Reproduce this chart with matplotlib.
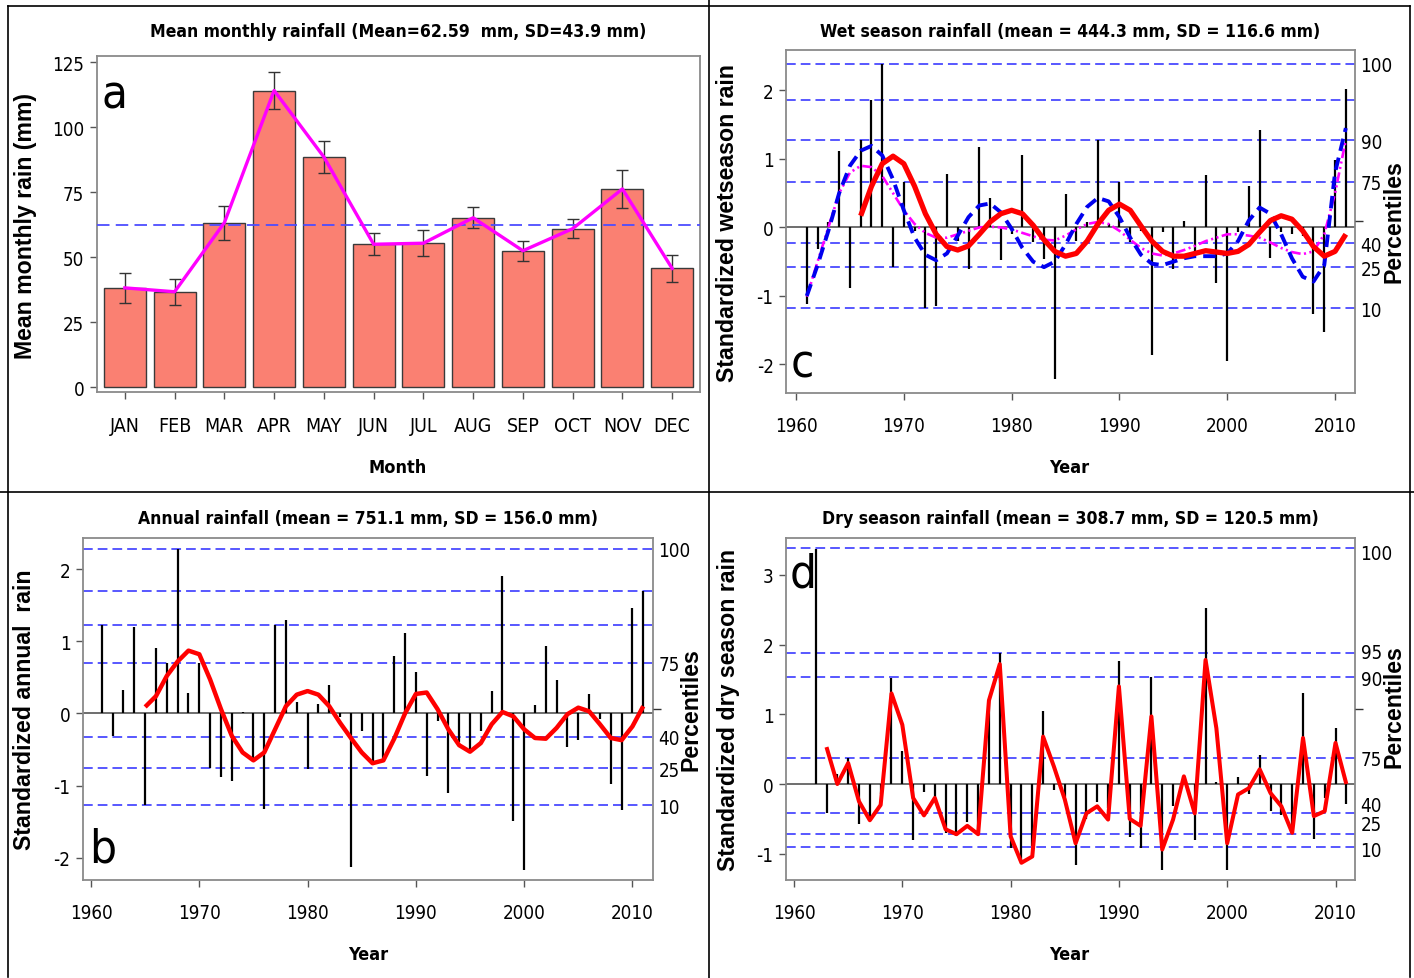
import os
import numpy as np
import matplotlib
matplotlib.use('Agg')
import matplotlib.pyplot as plt
from matplotlib import font_manager as fm
from matplotlib.lines import Line2D

# ---------------- data ----------------
months = ['JAN', 'FEB', 'MAR', 'APR', 'MAY', 'JUN', 'JUL', 'AUG', 'SEP', 'OCT', 'NOV', 'DEC']
monthly_mean = [38.2, 36.7, 63.3, 114.2, 88.6, 55.0, 55.4, 65.2, 52.5, 61.0, 76.3, 45.7]
monthly_se = [5.7, 5.0, 6.6, 7.3, 6.1, 4.2, 5.0, 4.0, 3.9, 3.7, 7.2, 5.1]
overall_mean = 62.59

years_wet = list(range(1961, 2012))
wet_anom = [-1.12, -0.31, 0.08, 1.11, -0.89, 1.27, 1.86, 2.39, -0.58, 0.66,
            -0.05, -1.18, -1.14, 0.78, -0.20, -0.60, 1.17, 0.43, -0.48, -0.10,
            1.06, -0.22, -0.46, -2.21, 0.49, -0.20, 0.08, 1.27, 0.05, 0.66,
            -0.22, -0.05, -1.86, -0.06, -0.60, 0.10, -0.36, 0.76, -0.81, -1.95,
            -0.06, 0.60, 1.42, -0.44, -0.07, -0.10, -0.13, -1.26, -1.53, 0.98, 2.02]
years_wet_red = list(range(1966, 2012))
wet_red = [0.17, 0.60, 0.93, 1.04, 0.93, 0.60, 0.20, -0.10, -0.28, -0.33,
           -0.27, -0.10, 0.08, 0.20, 0.25, 0.20, 0.03, -0.18, -0.35, -0.42,
           -0.38, -0.20, 0.05, 0.25, 0.34, 0.25, 0.02, -0.20, -0.35, -0.42,
           -0.42, -0.38, -0.34, -0.36, -0.38, -0.35, -0.25, -0.07, 0.10, 0.17,
           0.12, -0.05, -0.28, -0.42, -0.35, -0.10]
wet_blue = [-1.00, -0.55, -0.05, 0.50, 0.90, 1.12, 1.19, 1.05, 0.70, 0.25,
            -0.15, -0.40, -0.48, -0.38, -0.12, 0.15, 0.32, 0.35, 0.22, -0.02,
            -0.30, -0.50, -0.58, -0.50, -0.25, 0.05, 0.30, 0.43, 0.38, 0.15,
            -0.15, -0.40, -0.53, -0.55, -0.50, -0.45, -0.42, -0.42, -0.42, -0.38,
            -0.20, 0.10, 0.29, 0.20, -0.10, -0.45, -0.72, -0.79, -0.55, 0.80, 1.45]
wet_magenta = [-1.01, -0.50, 0.00, 0.50, 0.80, 0.90, 0.88, 0.75, 0.50, 0.25,
               0.05, -0.08, -0.15, -0.15, -0.10, -0.05, 0.00, 0.01, 0.00, -0.03,
               -0.08, -0.13, -0.18, -0.19, -0.12, -0.03, 0.05, 0.08, 0.05, -0.05,
               -0.18, -0.30, -0.38, -0.41, -0.38, -0.33, -0.27, -0.20, -0.15, -0.10,
               -0.10, -0.12, -0.15, -0.22, -0.30, -0.36, -0.39, -0.35, -0.10, 0.50, 1.28]
wet_pct_pos = [2.39, 1.855, 1.27, 0.667, -0.232, -0.585, -1.18]
wet_pct_lab = ['100', '', '90', '75', '40', '25', '10']
wet_mid_tick = 0.10

years_ann = list(range(1961, 2012))
ann_anom = [1.22, -0.31, 0.32, 1.20, -1.27, 0.91, 0.70, 2.28, 0.29, 0.70,
            -0.76, -0.88, -0.94, 0.02, -0.63, -1.33, 1.22, 1.29, 0.16, -0.77,
            0.13, 0.40, -0.05, -2.13, -0.24, -0.68, -0.64, 0.79, 1.12, 0.58,
            -0.86, -0.11, -1.10, -0.39, -0.51, -0.24, 0.31, 1.90, -1.49, -2.17,
            0.12, 0.94, 0.47, -0.46, -0.37, 0.27, -0.08, -0.98, -1.34, 1.46, 1.69]
years_ann_red = list(range(1965, 2012))
ann_red = [0.09, 0.24, 0.52, 0.72, 0.87, 0.82,
           0.47, 0.06, -0.31, -0.54, -0.65, -0.54, -0.22, 0.10, 0.26, 0.31,
           0.26, 0.10, -0.13, -0.34, -0.54, -0.69, -0.65, -0.35, 0.00, 0.27,
           0.29, 0.06, -0.22, -0.44, -0.53, -0.41, -0.15, 0.02, -0.04, -0.22,
           -0.34, -0.35, -0.20, -0.01, 0.08, 0.03, -0.15, -0.34, -0.37, -0.18, 0.10]
ann_pct_pos = [2.28, 1.69, 1.22, 0.70, -0.32, -0.76, -1.27]
ann_pct_lab = ['100', '', '', '75', '40', '25', '10']
ann_mid_tick = 0.06

years_dry = list(range(1962, 2012))
dry_anom = [3.37, -0.41, 0.14, 0.37, -0.58, -0.51, -0.15, 1.52, 0.48,
            -0.81, -0.12, -0.18, -0.70, -0.75, -0.54, -0.70, 1.19, 1.88, -0.92,
            -1.10, -0.89, 1.05, -0.08, -0.18, -1.16, -0.50, -0.26, -0.34, 1.77,
            -0.76, -0.92, 1.53, -1.24, -0.31, 0.12, -0.81, 2.53, 0.03, -1.23,
            0.10, -0.15, 0.42, -0.38, -0.45, -0.70, 1.31, -0.79, -0.20, 0.80, -0.29]
years_dry_red = list(range(1963, 2012))
dry_red = [0.53, 0.00, 0.30, -0.25, -0.52, -0.30, 1.30, 0.85,
           -0.20, -0.45, -0.20, -0.65, -0.72, -0.60, -0.72, 1.20, 1.72, -0.75,
           -1.13, -1.04, 0.68, 0.25, -0.22, -0.85, -0.42, -0.32, -0.51, 1.40,
           -0.50, -0.60, 0.97, -0.94, -0.51, 0.11, -0.42, 1.78, 0.80, -0.85,
           -0.15, -0.06, 0.21, -0.13, -0.32, -0.70, 0.66, -0.46, -0.39, 0.59, 0.00]
dry_pct_line = [3.39, 1.88, 1.53, 0.37, -0.42, -0.72, -0.90]
dry_pct_pos = [3.33, 1.91, 1.53, 0.38, -0.28, -0.55, -0.93]
dry_pct_lab = ['100', '95', '90', '75', '40', '25', '10']
dry_mid_tick = 1.07

year_ticks = [1960, 1970, 1980, 1990, 2000, 2010]

# ---------------- fonts ----------------
files = {os.path.basename(f.fname): f.fname for f in fm.fontManager.ttflist}
pairs = [('LiberationSansNarrow-Regular.ttf', 'LiberationSansNarrow-Bold.ttf'),
         ('DejaVuSansCondensed.ttf', 'DejaVuSansCondensed-Bold.ttf'),
         ('RobotoCondensed-Regular.ttf', 'RobotoCondensed-Bold.ttf')]
NREG = NBOLD = None
for r, b in pairs:
    if r in files and b in files:
        NREG, NBOLD = files[r], files[b]
        break
SC = 1.0 if NREG else 0.82


def FP(bold=False, size=12, narrow=True):
    if narrow and NREG:
        p = fm.FontProperties(fname=NBOLD if bold else NREG)
        p.set_size(size)
    elif narrow:
        p = fm.FontProperties(family='Liberation Sans', weight='bold' if bold else 'normal')
        p.set_size(size * SC)
    else:
        p = fm.FontProperties(family='Liberation Sans', weight='bold' if bold else 'normal')
        p.set_size(size)
    return p


plt.rcParams['axes.unicode_minus'] = False
plt.rcParams['lines.scale_dashes'] = False

W, H = 1414, 979
fig = plt.figure(figsize=(W / 100, H / 100), dpi=100)


def box(l, t, r, b):
    return [l / W, 1 - b / H, (r - l) / W, (b - t) / H]


def ftext(x, y, s, **kw):
    fig.text(x / W, 1 - y / H, s, **kw)


SPINE = '#8a8a8a'
TICK_SIZE = 13.5
BLUE = '#2a2aff'


def style_axes(ax):
    for sp in ax.spines.values():
        sp.set_color(SPINE)
        sp.set_linewidth(1.3)
    ax.tick_params(axis='both', direction='out', length=5, width=1.0, color='#555555')
    ax.tick_params(axis='x', pad=12)
    ax.tick_params(axis='y', pad=4)


# ---------------- panel a ----------------
axa = fig.add_axes(box(97, 57, 700, 393))
xm = np.arange(len(months))
axa.bar(xm, monthly_mean, width=0.84, color='#FA8072', edgecolor='#3a3a3a', linewidth=1.0, zorder=2)
axa.errorbar(xm, monthly_mean, yerr=monthly_se, fmt='none', ecolor='#333333',
             elinewidth=1.0, capsize=4, capthick=1.0, zorder=3)
axa.axhline(overall_mean, color='#4d4dff', lw=1.3, dashes=(9, 4.5), zorder=3.5)
axa.plot(xm, monthly_mean, color='#ff00ff', lw=2.4, zorder=4)
axa.set_xlim(-0.56, 11.56)
axa.set_ylim(-1.9, 127.5)
axa.set_yticks([0, 25, 50, 75, 100, 125])
axa.set_xticks(xm)
style_axes(axa)
axa.set_xticklabels(months, fontproperties=FP(size=14))
axa.set_yticklabels(['0', '25', '50', '75', '100', '125'], fontproperties=FP(size=TICK_SIZE))
axa.text(0.008, 0.885, 'a', transform=axa.transAxes, ha='left', va='center',
         fontproperties=FP(size=34))


def anomaly_panel(ax, years, vals, xr, yr, yt):
    ax.axhline(0, color='#555555', lw=1.2, zorder=2)
    ax.vlines(years, 0, vals, colors='black', lw=1.6, zorder=3)
    ax.set_xlim(*xr)
    ax.set_ylim(*yr)
    ax.set_xticks(year_ticks)
    ax.set_yticks(yt)
    style_axes(ax)
    ax.set_xticklabels([str(v) for v in year_ticks], fontproperties=FP(size=TICK_SIZE))
    ax.set_yticklabels([str(v) for v in yt], fontproperties=FP(size=TICK_SIZE))


def pct_axis(ax, line_pos, lab_pos, labs, mid):
    for v in line_pos:
        ax.axhline(v, color=BLUE, lw=1.1, dashes=(7, 3.6), zorder=1)
    ax2 = ax.twinx()
    ax2.set_ylim(ax.get_ylim())
    ax2.set_yticks(lab_pos)
    ax2.set_yticklabels(labs, fontproperties=FP(size=TICK_SIZE))
    ax2.set_yticks([mid], minor=True)
    ax2.tick_params(axis='y', which='major', length=0, pad=4)
    ax2.tick_params(axis='y', which='minor', length=6, width=1.0, color='#333333')
    for sp in ax2.spines.values():
        sp.set_visible(False)
    return ax2


# ---------------- panel c ----------------
axc = fig.add_axes(box(786, 51, 1355, 393.5))
anomaly_panel(axc, years_wet, wet_anom, (1959.07, 2011.85), (-2.41, 2.59), [-2, -1, 0, 1, 2])
pct_axis(axc, wet_pct_pos, wet_pct_pos, wet_pct_lab, wet_mid_tick)
axc.plot(years_wet, wet_magenta, color='#ff00ff', lw=1.9, dashes=(7, 2.5, 1.5, 2.5, 1.5, 2.5), zorder=4)
axc.plot(years_wet, wet_blue, color='#0000ee', lw=2.8, dashes=(9, 5), zorder=5)
axc.plot(years_wet_red, wet_red, color='#ff0000', lw=3.8, zorder=6, solid_capstyle='butt')
axc.text(0.008, 0.083, 'c', transform=axc.transAxes, ha='left', va='center', fontproperties=FP(size=34))

# ---------------- panel b ----------------
axb = fig.add_axes(box(83, 539, 653, 880.5))
anomaly_panel(axb, years_ann, ann_anom, (1959.26, 2011.9), (-2.30, 2.43), [-2, -1, 0, 1, 2])
pct_axis(axb, ann_pct_pos, ann_pct_pos, ann_pct_lab, ann_mid_tick)
axb.plot(years_ann_red, ann_red, color='#ff0000', lw=3.2, zorder=6, solid_capstyle='butt')
axb.text(0.01, 0.089, 'b', transform=axb.transAxes, ha='left', va='center', fontproperties=FP(size=34))

# ---------------- panel d ----------------
axd = fig.add_axes(box(786, 539, 1355, 880.5))
anomaly_panel(axd, years_dry, dry_anom, (1959.26, 2011.8), (-1.37, 3.53), [-1, 0, 1, 2, 3])
pct_axis(axd, dry_pct_line, dry_pct_pos, dry_pct_lab, dry_mid_tick)
axd.plot(years_dry_red, dry_red, color='#ff0000', lw=2.9, zorder=6, solid_capstyle='butt')
axd.text(0.006, 0.895, 'd', transform=axd.transAxes, ha='left', va='center', fontproperties=FP(size=34))

# ---------------- titles & labels ----------------
TS = 12.6
ftext(398, 32, 'Mean monthly rainfall (Mean=62.59  mm, SD=43.9 mm)', ha='center', va='center', fontproperties=FP(True, TS))
ftext(1070, 32, 'Wet season rainfall (mean = 444.3 mm, SD = 116.6 mm)', ha='center', va='center', fontproperties=FP(True, TS))
ftext(368, 519, 'Annual rainfall (mean = 751.1 mm, SD = 156.0 mm)', ha='center', va='center', fontproperties=FP(True, TS))
ftext(1070, 519, 'Dry season rainfall (mean = 308.7 mm, SD = 120.5 mm)', ha='center', va='center', fontproperties=FP(True, TS))

XS = 13
ftext(398, 468, 'Month', ha='center', va='center', fontproperties=FP(True, XS))
ftext(1069, 468, 'Year', ha='center', va='center', fontproperties=FP(True, XS))
ftext(368, 955, 'Year', ha='center', va='center', fontproperties=FP(True, XS))
ftext(1069, 955, 'Year', ha='center', va='center', fontproperties=FP(True, XS))

YS = 16.7
ftext(26, 226, 'Mean monthly rain (mm)', ha='center', va='center', rotation=90, fontproperties=FP(True, YS, narrow=False))
ftext(728, 223, 'Standardized wetseason rain', ha='center', va='center', rotation=90, fontproperties=FP(True, YS, narrow=False))
ftext(25, 710, 'Standardized annual  rain', ha='center', va='center', rotation=90, fontproperties=FP(True, YS, narrow=False))
ftext(728, 710, 'Standardized dry season rain', ha='center', va='center', rotation=90, fontproperties=FP(True, YS, narrow=False))
ftext(1394, 222, 'Percentiles', ha='center', va='center', rotation=90, fontproperties=FP(True, YS, narrow=False))
ftext(691, 710, 'Percentiles', ha='center', va='center', rotation=90, fontproperties=FP(True, YS, narrow=False))
ftext(1394, 707, 'Percentiles', ha='center', va='center', rotation=90, fontproperties=FP(True, YS, narrow=False))

# ---------------- panel frame lines ----------------
for (x0, y0, x1, y1) in [(709, 0, 709, 979), (0, 493, 1414, 493),
                         (8, 7, 1410, 7), (8, 7, 8, 978), (1410, 7, 1410, 978)]:
    fig.add_artist(Line2D([x0 / W, x1 / W], [1 - y0 / H, 1 - y1 / H], color='black', lw=1.2))

fig.savefig('out.png', dpi=100)
